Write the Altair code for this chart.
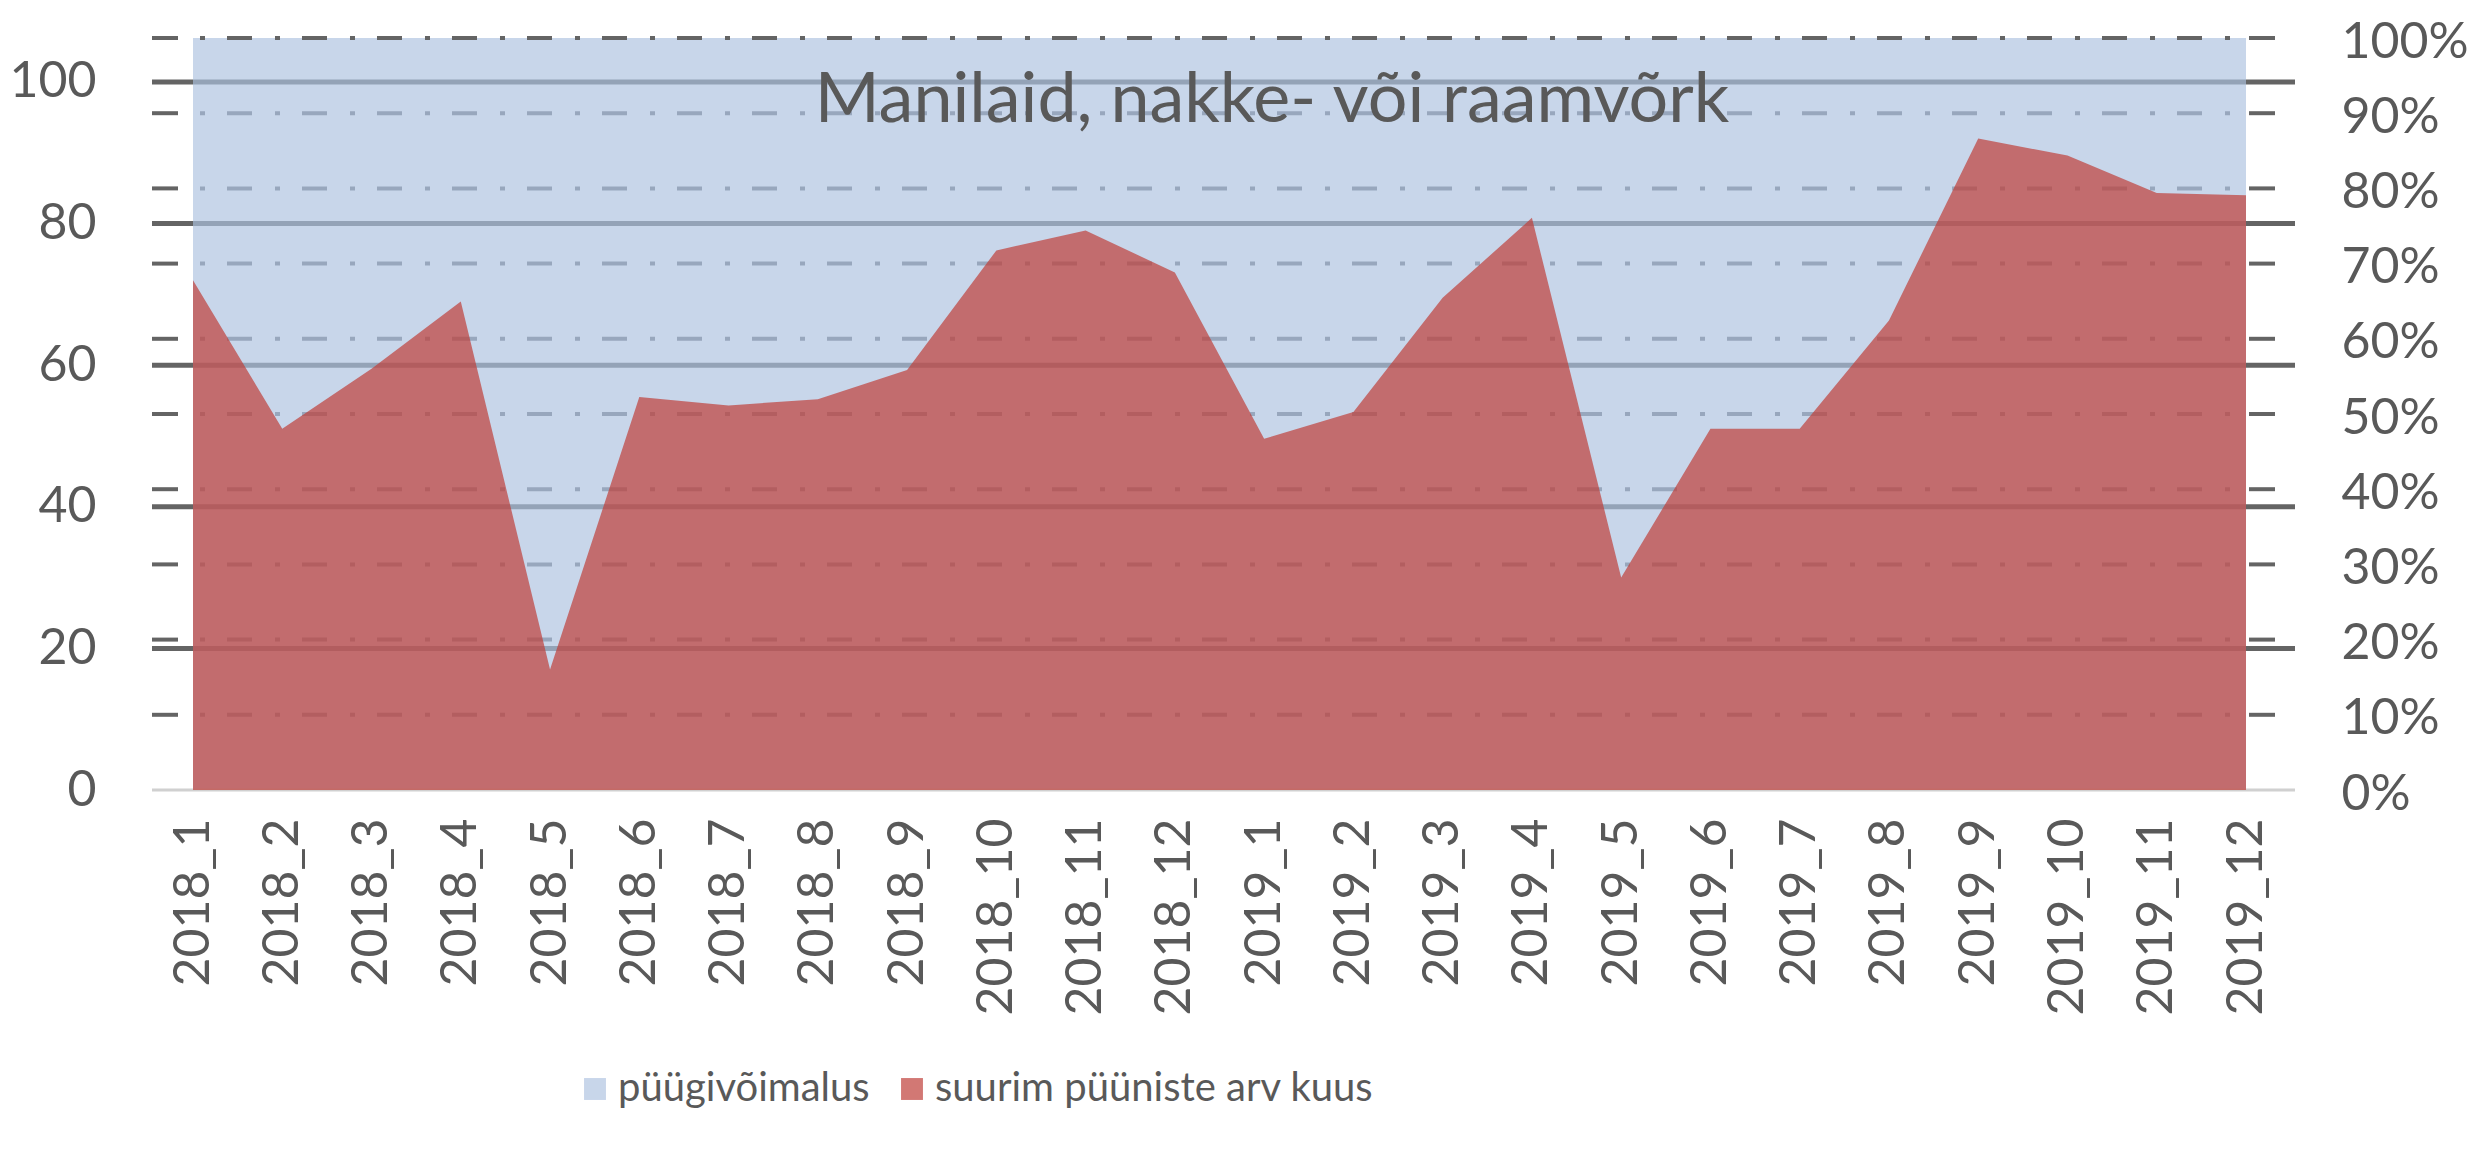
import altair as alt
import pandas as pd

# ---------------- data ----------------
months = ["2018_1", "2018_2", "2018_3", "2018_4", "2018_5", "2018_6", "2018_7", "2018_8",
          "2018_9", "2018_10", "2018_11", "2018_12", "2019_1", "2019_2", "2019_3", "2019_4",
          "2019_5", "2019_6", "2019_7", "2019_8", "2019_9", "2019_10", "2019_11", "2019_12"]
traps = [72, 51, 59.5, 69, 17, 55.5, 54.3, 55.2, 59.3, 76.2, 79, 73.1,
         49.6, 53.4, 69.5, 80.8, 30, 51, 51, 66.3, 92, 89.6, 84.3, 84]
opportunity = [1.0, 1.0, 1.0, 1.0, 1.0, 1.0, 1.0, 1.0, 1.0, 1.0, 1.0, 1.0,
               1.0, 1.0, 1.0, 1.0, 1.0, 1.0, 1.0, 1.0, 1.0, 1.0, 1.0, 1.0]
series_names = ["püügivõimalus", "suurim püüniste arv kuus"]
left_ticks = [0, 20, 40, 60, 80, 100]
left_grid = [20, 40, 60, 80, 100]
right_ticks = [0, 0.1, 0.2, 0.3, 0.4, 0.5, 0.6, 0.7, 0.8, 0.9, 1.0]
right_grid = [0.1, 0.2, 0.3, 0.4, 0.5, 0.6, 0.7, 0.8, 0.9]
right_top = [1.0]
right_dash_marks = [0.1, 0.2, 0.3, 0.4, 0.5, 0.6, 0.7, 0.8, 0.9, 1.0]
zero_line = [0]
title_text = "Manilaid, nakke- või raamvõrk"

# ---------------- style ----------------
W, H = 2053, 752
FONT = "Lato"
TXT = "#595959"
BLUE = "#C8D6EA"
RED = "#BF3F39"
GRID = "#94A3B7"
DASHGRID = "#98A7BD"
TICK = "#646464"
LEFT_MAX = 106.2

df_blue = pd.DataFrame({"month": months, "value": opportunity, "series": series_names[0]})
df_red = pd.DataFrame({"month": months, "value": traps, "series": series_names[1]})
df_lgrid = pd.DataFrame({"v": left_grid})
df_zero = pd.DataFrame({"v": zero_line})
df_rgrid = pd.DataFrame({"v": right_grid})
df_rtop = pd.DataFrame({"v": right_top})
df_rdash = pd.DataFrame({"v": right_dash_marks})
df_title = pd.DataFrame({"t": [title_text]})

x_enc = alt.X("month:O", sort=months,
              scale=alt.Scale(type="point", padding=0),
              axis=alt.Axis(title=None, labelAngle=-90, labelFont=FONT, labelFontSize=50,
                            labelColor=TXT, labelPadding=28, ticks=False, domain=False,
                            grid=False, labelLimit=500))

rscale = alt.Scale(domain=[0, 1], nice=False, zero=True)
lscale = alt.Scale(domain=[0, LEFT_MAX], nice=False, zero=True)

raxis = alt.Axis(title=None, orient="right", values=right_ticks, format=".0%",
                 labelFont=FONT, labelFontSize=50, labelColor=TXT, labelOffset=4,
                 labelPadding=95, ticks=False, domain=False, grid=False)
laxis = alt.Axis(title=None, orient="left", values=left_ticks,
                 labelFont=FONT, labelFontSize=50, labelColor=TXT,
                 labelPadding=97, ticks=False, domain=False, grid=False)

color_scale = alt.Scale(domain=series_names, range=[BLUE, RED])
opac_scale = alt.Scale(domain=series_names, range=[1.0, 0.7])
legend = alt.Legend(title=None, orient="none", legendX=382, legendY=1031,
                    direction="horizontal", symbolType="square", symbolSize=480,
                    labelFont=FONT, labelFontSize=40, labelColor=TXT, labelOffset=3,
                    columnPadding=22, symbolStrokeWidth=0, labelLimit=1000)

# ---------------- right-scale group ----------------
blue_area = alt.Chart(df_blue).mark_area().encode(
    x=x_enc,
    y=alt.Y("value:Q", scale=rscale, axis=raxis),
    color=alt.Color("series:N", scale=color_scale, legend=legend),
    opacity=alt.Opacity("series:N", scale=opac_scale, legend=legend),
)

dash_inside = alt.Chart(df_rgrid).mark_rule(
    color=DASHGRID, strokeWidth=4, strokeDash=[25, 23, 5, 22], strokeDashOffset=41
).encode(y=alt.Y("v:Q", scale=rscale, axis=raxis), x=alt.value(0), x2=alt.value(W))

dash_top = alt.Chart(df_rtop).mark_rule(
    color=TICK, strokeWidth=4, strokeDash=[25, 23, 5, 22], strokeDashOffset=41
).encode(y=alt.Y("v:Q", scale=rscale, axis=raxis), x=alt.value(0), x2=alt.value(W))

dash_left = alt.Chart(df_rdash).mark_rule(color=TICK, strokeWidth=4).encode(
    y=alt.Y("v:Q", scale=rscale, axis=raxis), x=alt.value(-41), x2=alt.value(-15))

dash_right = alt.Chart(df_rdash).mark_rule(color=TICK, strokeWidth=4).encode(
    y=alt.Y("v:Q", scale=rscale, axis=raxis), x=alt.value(W + 3), x2=alt.value(W + 29))

right_group = alt.layer(blue_area, dash_inside, dash_top, dash_left, dash_right)

# ---------------- left-scale group ----------------
zero_rule = alt.Chart(df_zero).mark_rule(color="#D0D0D0", strokeWidth=3).encode(
    y=alt.Y("v:Q", scale=lscale, axis=laxis), x=alt.value(-41), x2=alt.value(W + 49))

solid_inside = alt.Chart(df_lgrid).mark_rule(color=GRID, strokeWidth=5).encode(
    y=alt.Y("v:Q", scale=lscale, axis=laxis), x=alt.value(0), x2=alt.value(W))

red_area = alt.Chart(df_red).mark_area().encode(
    x=x_enc,
    y=alt.Y("value:Q", scale=lscale, axis=laxis),
    color=alt.Color("series:N", scale=color_scale, legend=legend),
    opacity=alt.Opacity("series:N", scale=opac_scale, legend=legend),
)

solid_left = alt.Chart(df_lgrid).mark_rule(color=TICK, strokeWidth=5).encode(
    y=alt.Y("v:Q", scale=lscale, axis=laxis), x=alt.value(-41), x2=alt.value(0))

solid_right = alt.Chart(df_lgrid).mark_rule(color=TICK, strokeWidth=5).encode(
    y=alt.Y("v:Q", scale=lscale, axis=laxis), x=alt.value(W), x2=alt.value(W + 49))

title_mark = alt.Chart(df_title).mark_text(
    font=FONT, fontSize=70, color=TXT, align="center", baseline="alphabetic"
).encode(text="t:N", x=alt.value(1079), y=alt.value(84))

left_group = alt.layer(zero_rule, solid_inside, red_area, solid_left, solid_right, title_mark)

chart = alt.layer(right_group, left_group).resolve_scale(y="independent").properties(
    width=W, height=H,
    padding={"left": 185, "top": 30, "right": 230, "bottom": 360},
    autosize=alt.AutoSizeParams(type="none"),
    background="white",
).configure_view(stroke=None)

chart.save("out.html", embed_options={"renderer": "svg", "actions": False})
